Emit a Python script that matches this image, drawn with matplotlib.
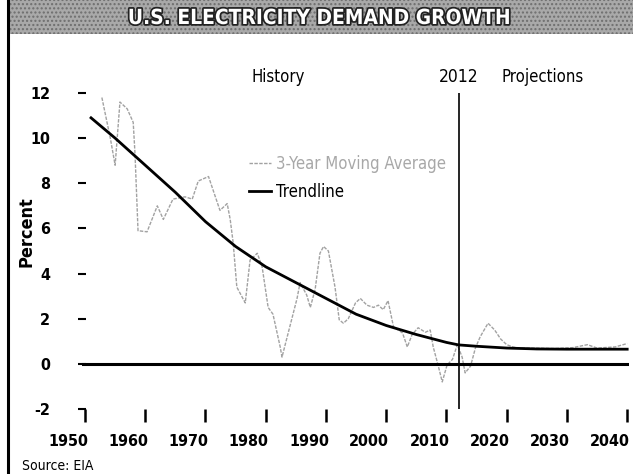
import matplotlib
matplotlib.use("Agg")
import matplotlib.pyplot as plt
import matplotlib.patheffects as pe
import matplotlib.transforms as mtransforms
from matplotlib.patches import Rectangle
from matplotlib.lines import Line2D

plt.rcParams['font.family'] = ['DejaVu Sans']
plt.rcParams['font.stretch'] = 'condensed'

# 3-year moving average
ma_years = [1952.8, 1954.2, 1955.0, 1955.8, 1957.0, 1958.0, 1958.3, 1958.8, 1960.3,
            1962.0, 1963.0, 1964.6, 1966.6, 1967.8, 1968.8, 1970.5, 1972.4, 1973.6,
            1974.1, 1974.6, 1975.2, 1976.6, 1977.4, 1978.6, 1979.4, 1980.4, 1981.2,
            1982.4, 1982.7, 1985.2, 1985.7, 1986.8, 1987.4, 1988.2, 1989.0, 1989.6,
            1990.4, 1991.5, 1992.2, 1992.9, 1993.7, 1994.9, 1995.7, 1996.8, 1997.9,
            1998.7, 1999.5, 2000.3, 2001.2, 2002.7, 2003.5, 2004.3, 2005.3, 2006.5,
            2007.3, 2007.8, 2008.6, 2009.3, 2010.1, 2011.0, 2011.8, 2012.6, 2013.1,
            2014.0, 2014.8, 2015.6, 2016.9, 2018.0, 2019.0, 2020.0, 2021.0, 2022.0,
            2025.0, 2028.0, 2031.0, 2033.4, 2035.0, 2038.0, 2040.0]
ma_values = [11.8, 10.0, 8.8, 11.6, 11.3, 10.7, 9.3, 5.9, 5.85,
             7.0, 6.4, 7.3, 7.4, 7.3, 8.1, 8.3, 6.8, 7.1,
             6.4, 5.35, 3.4, 2.7, 4.6, 4.9, 4.3, 2.5, 2.2,
             0.75, 0.3, 2.9, 3.6, 3.05, 2.5, 3.3, 4.9, 5.2,
             5.0, 3.4, 1.95, 1.8, 2.0, 2.7, 2.9, 2.6, 2.5,
             2.6, 2.4, 2.8, 1.65, 1.37, 0.75, 1.3, 1.6, 1.4,
             1.5, 0.75, -0.05, -0.8, -0.05, 0.2, 0.85, 0.3, -0.4,
             -0.1, 0.7, 1.2, 1.8, 1.5, 1.1, 0.85, 0.75, 0.7,
             0.7, 0.68, 0.72, 0.85, 0.7, 0.75, 0.9]

# trendline
trend_years = [1951, 1955, 1960, 1965, 1970, 1975, 1980, 1985, 1990, 1995, 2000,
               2005, 2010, 2012, 2015, 2020, 2025, 2030, 2035, 2040]
trend_values = [10.9, 10.0, 8.8, 7.6, 6.3, 5.2, 4.3, 3.6, 2.9, 2.2, 1.7,
                1.3, 0.95, 0.84, 0.78, 0.7, 0.66, 0.65, 0.65, 0.65]

x_ticks = [1950, 1960, 1970, 1980, 1990, 2000, 2010, 2020, 2030, 2040]
y_ticks = [-2, 0, 2, 4, 6, 8, 10, 12]
split_year = 2012

fig = plt.figure(figsize=(6.33, 4.74), dpi=100)
ax = fig.add_axes([82 / 633, 65 / 474, 547 / 633, 316 / 474])

# header band and left border
fig.patches.append(Rectangle((8 / 633, 1 - 34 / 474), 1, 34 / 474, transform=fig.transFigure,
                             facecolor='#a9a9a9', edgecolor='#6e6e6e', hatch='....', lw=0))
fig.lines.append(Line2D([8 / 633, 8 / 633], [0, 1], transform=fig.transFigure,
                        color='black', lw=2.2))
fig.text(0.505, 1 - 18 / 474, "U.S. ELECTRICITY DEMAND GROWTH", ha='center', va='center',
         fontsize=15, fontweight='heavy', color='white',
         path_effects=[pe.withStroke(linewidth=2.5, foreground='#222222')])

ax.plot(ma_years, ma_values, color='#a2a2a2', lw=1.0, linestyle=(0, (2.5, 1)),
        label='3-Year Moving Average')
ax.plot(trend_years, trend_values, color='black', lw=2.0, label='Trendline')
ax.axhline(0, color='black', lw=2.2)
ax.axvline(split_year, color='black', lw=1.2)

ax.set_xlim(1949.5, 2040.3)
ax.set_ylim(-2, 12)
for s in ax.spines.values():
    s.set_visible(False)

ax.set_xticks(x_ticks)
ax.set_yticks(y_ticks)
ax.tick_params(axis='x', direction='out', length=9, width=1.8, pad=9, labelsize=11.5)
ax.tick_params(axis='y', direction='inout', length=6, width=1.5, pad=20, labelsize=11.5)
ax.set_yticklabels([str(v) for v in y_ticks], fontweight='bold')
ax.set_xticklabels([str(v) for v in x_ticks], fontweight='bold')
shift = mtransforms.ScaledTranslation(-0.17, 0, fig.dpi_scale_trans)
for lab in ax.get_xticklabels():
    lab.set_transform(lab.get_transform() + shift)

ax.set_ylabel("Percent", fontsize=13, fontweight='bold')
ax.yaxis.set_label_coords(-0.085, 0.56)

top = mtransforms.blended_transform_factory(ax.transData, ax.transAxes)
ax.text(1982, 1.05, "History", transform=top, ha='center', va='center', fontsize=12)
ax.text(split_year, 1.05, "2012", transform=top, ha='center', va='center', fontsize=12.5)
ax.text(2026, 1.05, "Projections", transform=top, ha='center', va='center', fontsize=12)

leg = ax.legend(loc='upper left', bbox_to_anchor=(249 / 633, 1 - 155 / 474),
                bbox_transform=fig.transFigure, frameon=False, fontsize=12,
                handlelength=1.3, handletextpad=0.3, labelspacing=0.6,
                borderpad=0, borderaxespad=0)
leg.get_texts()[0].set_color('#a8a8a8')

fig.text(22 / 633, 1 - 466 / 474, "Source: EIA", ha='left', va='center', fontsize=10)

fig.savefig("out.png", dpi=100)
